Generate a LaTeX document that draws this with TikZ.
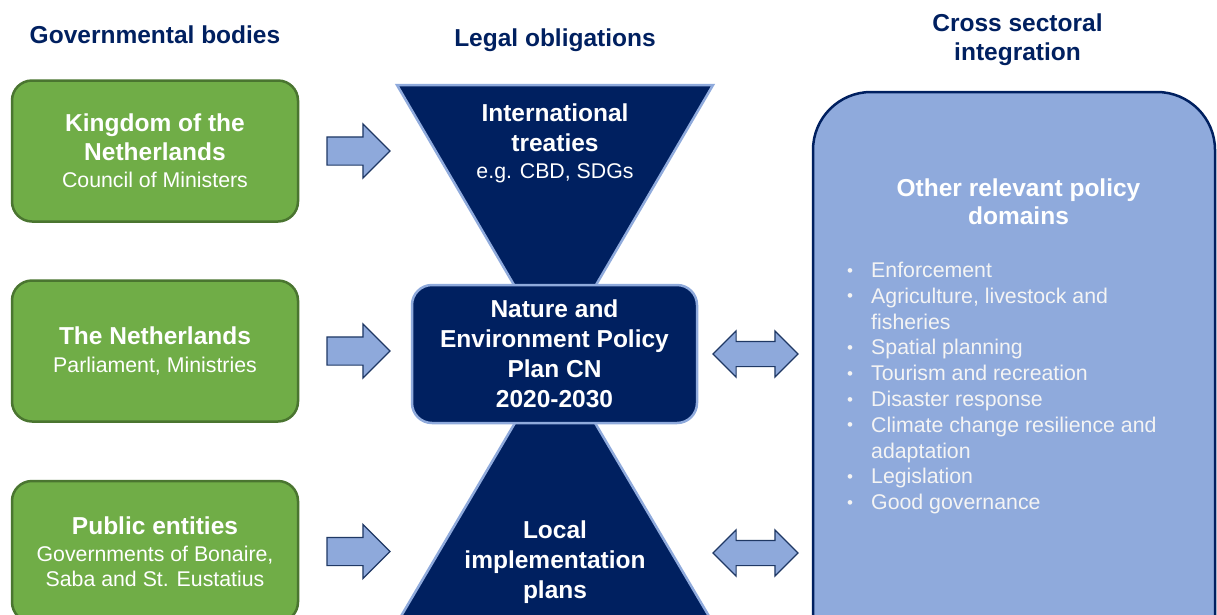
\documentclass[tikz,border=0pt]{standalone}
\usepackage{fontspec}
\setmainfont{Liberation Sans}
\usetikzlibrary{shapes.arrows}
\definecolor{navy}{HTML}{002060}
\definecolor{gfill}{HTML}{70AD47}
\definecolor{gborder}{HTML}{4A7530}
\definecolor{lblue}{HTML}{8FAADC}
\definecolor{ablue}{HTML}{8EA9DB}
\definecolor{aborder}{HTML}{1F3864}
\definecolor{offwhite}{HTML}{F4F4F4}
\newcommand\txtB{\fontsize{24.5}{28.5}\selectfont\bfseries}
\newcommand\txtC{\fontsize{24.5}{30}\selectfont\bfseries}
\newcommand\txtR{\fontsize{21.3}{25}\selectfont\mdseries}
\begin{document}
\begin{tikzpicture}[x=1pt,y=-1pt,
  header/.style={text=navy, font=\txtB, align=center, inner sep=0pt},
  gbox/.style={draw=gborder, fill=gfill, line width=2.5pt, rounded corners=20pt,
    minimum width=286pt, minimum height=141pt, align=center, text=white,
    inner sep=0pt, font=\txtB},
  nbox/.style={draw=lblue, fill=navy, line width=2.5pt, rounded corners=20pt,
    minimum width=285pt, minimum height=138pt, align=center, text=white,
    inner sep=0pt, font=\txtC},
  tri/.style={draw=lblue, fill=navy, line width=2.5pt, line join=miter},
  ttext/.style={text=white, align=center, inner sep=0pt, font=\txtC},
  rbox/.style={draw=navy, fill=lblue, line width=2.5pt, rounded corners=58pt,
    minimum width=402pt, minimum height=628pt, inner sep=0pt},
  rarrow/.style={single arrow, draw=aborder, fill=ablue, line width=1.2pt,
    inner xsep=0pt, inner ysep=13.5pt, single arrow head extend=13pt,
    single arrow tip angle=90, minimum height=63pt},
  darrow/.style={double arrow, draw=aborder, fill=ablue, line width=1.2pt,
    inner xsep=0pt, inner ysep=12pt, double arrow head extend=10.5pt,
    double arrow tip angle=90, minimum height=85pt},
  item/.style={text=offwhite, font=\txtR, anchor=base west, inner sep=0pt},
  bul/.style={text=offwhite, font=\fontsize{17}{17}\selectfont, anchor=base, inner sep=0pt}
]
\clip (0,0) rectangle (1217,614);
\fill[white] (0,0) rectangle (1217,614);

% headers
\node[header, anchor=base] (h1) at (155,43.3) {Governmental bodies};
\node[header, anchor=base] (h2) at (555,46.7) {Legal obligations};
\node[header] (h3) at (1017.5,39.5) {Cross sectoral\\integration};

% green boxes
\node[gbox] (k1) at (155,151) {Kingdom of the\\Netherlands\\[-1.2pt]{\txtR Council of Ministers}};
\node[gbox] (k2) at (155,351) {The Netherlands\\[-1.2pt]{\txtR Parliament, Ministries}};
\node[gbox] (k3) at (155,551.5) {Public entities\\[-1.2pt]{\txtR Governments of Bonaire,}\\[-3.5pt]{\txtR Saba and St. Eustatius}};

% funnel triangles
\draw[tri] (397,85) -- (713,85) -- (555,355) -- cycle;
\draw[tri] (555,355) -- (387,640) -- (723,640) -- cycle;
\node[ttext] (t1) at (555,143.5) {International\\treaties\\[-3.4pt]{\txtR e.g. CBD, SDGs}};
\node[ttext] (t2) at (555,562.5) {Local\\implementation\\plans};

% central plan
\node[nbox] (mid) at (554.5,354) {Nature and\\Environment Policy\\Plan CN\\2020-2030};

% right box
\node[rbox] (other) at (1014,406) {};
\node[text=white, font=\txtB, align=center, inner sep=0pt] (ot) at (1018.5,201.5) {Other relevant policy\\domains};

% list
\foreach \t/\b [count=\i] in {Enforcement/1, {Agriculture, livestock and}/1, fisheries/0,
  Spatial planning/1, Tourism and recreation/1, Disaster response/1,
  Climate change resilience and/1, adaptation/0, Legislation/1, Good governance/1}{
  \pgfmathsetmacro\yy{277.5+25.8*(\i-1)}
  \node[item] (l\i) at (871,\yy) {\t};
  \ifnum\b=1 \node[bul] (b\i) at (850,\yy-1.5) {•};\fi
}

% arrows
\node[rarrow] (a1) at (351.5,151) {};
\node[rarrow] (a2) at (351.5,351) {};
\node[rarrow] (a3) at (351.5,551.5) {};
\node[darrow] (d1) at (755.5,354) {};
\node[darrow] (d2) at (755.5,553) {};
\end{tikzpicture}
\end{document}
